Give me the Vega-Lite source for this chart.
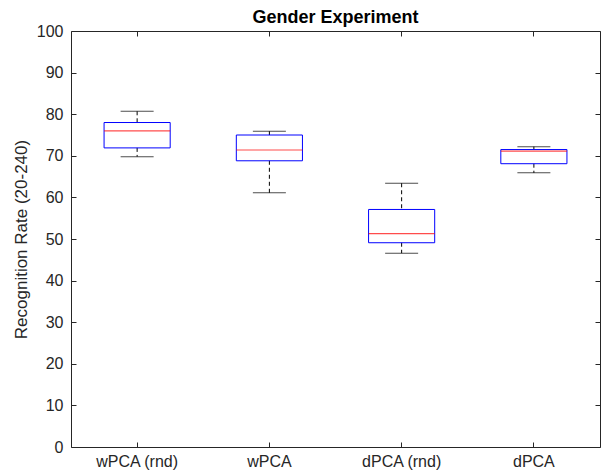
{
  "$schema": "https://vega.github.io/schema/vega-lite/v6.json",
  "autosize": {"type": "none"},
  "padding": {"left": 71, "top": 31, "right": 4, "bottom": 26},
  "width": 529,
  "height": 416,
  "background": "white",
  "config": {
    "font": "Liberation Sans",
    "view": {"stroke": "#262626", "strokeWidth": 1},
    "axis": {"grid": false, "domain": false, "labelFont": "Liberation Sans", "titleFont": "Liberation Sans", "labelColor": "#262626", "titleColor": "#262626", "tickColor": "#262626", "tickWidth": 1, "labelFontSize": 16, "titleFontSize": 17, "titleFontWeight": "normal"}
  },
  "title": {"text": "Gender Experiment", "fontSize": 18, "fontWeight": "bold", "font": "Liberation Sans", "color": "#000000", "offset": -4},
  "data": {"values": [
    {"method": "wPCA (rnd)", "min": 69.8, "q1": 71.9, "median": 76.0, "q3": 78.0, "max": 80.7},
    {"method": "wPCA", "min": 61.1, "q1": 68.8, "median": 71.4, "q3": 75.0, "max": 75.9},
    {"method": "dPCA (rnd)", "min": 46.6, "q1": 49.1, "median": 51.3, "q3": 57.1, "max": 63.4},
    {"method": "dPCA", "min": 65.9, "q1": 68.1, "median": 71.1, "q3": 71.5, "max": 72.2}
  ]},
  "resolve": {"axis": {"x": "independent", "y": "independent"}},
  "layer": [
    {
      "mark": {"type": "rule", "color": "#000000", "strokeDash": [4, 3], "strokeWidth": 1},
      "encoding": {
        "x": {"field": "method", "type": "nominal", "sort": null, "scale": {"paddingInner": 0, "paddingOuter": 0},
          "axis": {"title": null, "labelAngle": 0, "offset": -5, "tickSize": 5, "labelPadding": 6}},
        "y": {"field": "max", "type": "quantitative", "scale": {"domain": [0, 100], "nice": false},
          "axis": {"title": "Recognition Rate (20-240)", "values": [0,10,20,30,40,50,60,70,80,90,100], "offset": -5, "tickSize": 5, "labelPadding": 8, "titlePadding": 6}},
        "y2": {"field": "q3"}
      }
    },
    {
      "mark": {"type": "rule", "color": "#000000", "strokeDash": [4, 3], "strokeWidth": 1},
      "encoding": {
        "x": {"field": "method", "type": "nominal", "sort": null,
          "axis": {"title": null, "orient": "top", "labels": false, "offset": -5, "tickSize": 5}},
        "y": {"field": "q1", "type": "quantitative",
          "axis": {"title": null, "orient": "right", "labels": false, "values": [0,10,20,30,40,50,60,70,80,90,100], "offset": -5, "tickSize": 5}},
        "y2": {"field": "min"}
      }
    },
    {
      "mark": {"type": "bar", "fill": null, "fillOpacity": 0, "stroke": "#0000ff", "strokeWidth": 1, "width": {"band": 0.5}},
      "encoding": {
        "x": {"field": "method", "type": "nominal", "sort": null, "axis": null},
        "y": {"field": "q1", "type": "quantitative", "axis": null}, "y2": {"field": "q3"}}
    },
    {
      "mark": {"type": "tick", "color": "#000000", "size": 33, "thickness": 1},
      "encoding": {
        "x": {"field": "method", "type": "nominal", "sort": null, "axis": null},
        "y": {"field": "max", "type": "quantitative", "axis": null}}
    },
    {
      "mark": {"type": "tick", "color": "#000000", "size": 33, "thickness": 1},
      "encoding": {
        "x": {"field": "method", "type": "nominal", "sort": null, "axis": null},
        "y": {"field": "min", "type": "quantitative", "axis": null}}
    },
    {
      "mark": {"type": "tick", "color": "#ff0000", "size": 66, "thickness": 1.2},
      "encoding": {
        "x": {"field": "method", "type": "nominal", "sort": null, "axis": null},
        "y": {"field": "median", "type": "quantitative", "axis": null}}
    }
  ]
}
